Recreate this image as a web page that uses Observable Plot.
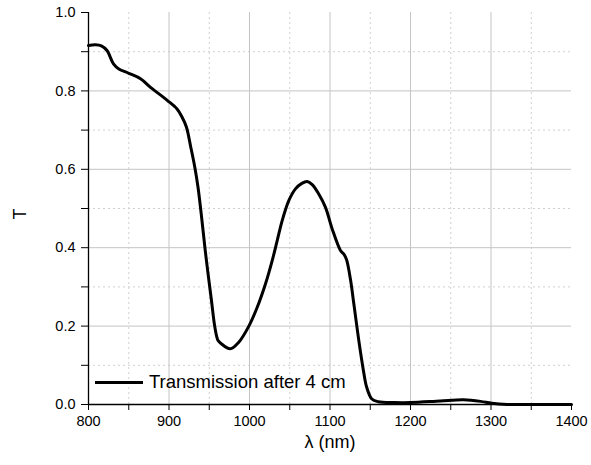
<!DOCTYPE html>
<html>
<head>
<meta charset="utf-8">
<script src="https://cdn.jsdelivr.net/npm/d3@7"></script>
<script src="https://cdn.jsdelivr.net/npm/@observablehq/plot@0.6"></script>
<style>
  html, body { margin: 0; padding: 0; background: #fff; }
  #wrap { position: relative; width: 591px; height: 465px; font-family: "Liberation Sans", Arial, sans-serif; }
  #legend { position: absolute; left: 95px; top: 371px; display: flex; align-items: center; font-size: 18.5px; line-height: 22px; color: #000; }
  #legend .sw { width: 48px; height: 0; border-top: 3px solid #000; margin-right: 6px; }
  #chart svg text { font-size: 14.5px; }
  #chart svg g.title text { font-size: 18px; }
</style>
</head>
<body>
<div id="wrap">
  <div id="chart"></div>
  <div id="legend"><span class="sw"></span><span>Transmission after 4 cm</span></div>
</div>
<script>
const seriesName = "Transmission after 4 cm";
const wavelength = [800, 808.7, 816, 823, 831, 837.7, 850, 864.6, 877, 897.8, 910, 916, 921.6, 927, 932, 936, 940, 945, 948.5, 952.7, 957, 961, 965, 976, 986.7, 999.2, 1009.6, 1019.9, 1028.2, 1034.4, 1040.6, 1048.8, 1057.1, 1065, 1071.6, 1077.9, 1086, 1094.4, 1102.7, 1113, 1117, 1120.5, 1125.5, 1129.6, 1135.8, 1141.5, 1145.6, 1152, 1160, 1180, 1200, 1237, 1266, 1287, 1301, 1320, 1350, 1400];
const transmission = [0.916, 0.918, 0.915, 0.903, 0.869, 0.856, 0.845, 0.831, 0.809, 0.776, 0.754, 0.734, 0.708, 0.657, 0.606, 0.555, 0.487, 0.393, 0.334, 0.266, 0.197, 0.163, 0.155, 0.142, 0.159, 0.200, 0.248, 0.308, 0.367, 0.418, 0.469, 0.520, 0.550, 0.564, 0.569, 0.561, 0.537, 0.503, 0.448, 0.393, 0.384, 0.370, 0.318, 0.257, 0.163, 0.087, 0.044, 0.014, 0.007, 0.005, 0.005, 0.009, 0.012, 0.008, 0.003, 0.0, 0.0, 0.0];
const xMajorTicks = [800, 900, 1000, 1100, 1200, 1300, 1400];
const xMinorTicks = [850, 950, 1050, 1150, 1250, 1350];
const yMajorTicks = [0, 0.2, 0.4, 0.6, 0.8, 1.0];
const yMinorTicks = [0.1, 0.3, 0.5, 0.7, 0.9];
const xGrid = [900, 1000, 1100, 1200, 1300];
const yGrid = [0.2, 0.4, 0.6, 0.8];

const data = wavelength.map((w, i) => ({w, t: transmission[i], s: seriesName}));

const plot = Plot.plot({
  width: 591,
  height: 465,
  marginLeft: 88,
  marginRight: 20,
  marginTop: 12,
  marginBottom: 61,
  style: {fontFamily: "Liberation Sans, Arial, sans-serif", fontSize: "14.5px", color: "#000", background: "#fff"},
  x: {domain: [800, 1400]},
  y: {domain: [0, 1]},
  marks: [
    Plot.gridX(xMinorTicks, {stroke: "#d0d0d0", strokeOpacity: 1, strokeDasharray: "2,3", strokeWidth: 1}),
    Plot.gridY(yMinorTicks, {stroke: "#d0d0d0", strokeOpacity: 1, strokeDasharray: "2,3", strokeWidth: 1}),
    Plot.gridX(xGrid, {stroke: "#c4c4c4", strokeOpacity: 1, strokeWidth: 1}),
    Plot.gridY(yGrid, {stroke: "#c4c4c4", strokeOpacity: 1, strokeWidth: 1}),
    Plot.axisX(xMajorTicks, {tickSize: 6, tickPadding: 5, label: null, tickFormat: d3.format("d"), stroke: "#000"}),
    Plot.axisX(xMinorTicks, {tickSize: 6, text: null, label: null, stroke: "#000"}),
    Plot.axisY(yMajorTicks, {tickSize: 7, tickPadding: 6, label: null, tickFormat: d3.format(".1f"), stroke: "#000"}),
    Plot.axisY(yMinorTicks, {tickSize: 7, text: null, label: null, stroke: "#000"}),
    Plot.ruleX([800], {stroke: "#000", strokeWidth: 1.3}),
    Plot.ruleY([0], {stroke: "#000", strokeWidth: 1.3}),
    Plot.line(data, {x: "w", y: "t", stroke: "#000", strokeWidth: 3, curve: "catmull-rom"}),
    Plot.text(["λ (nm)"], {frameAnchor: "bottom", dy: 43, className: "title", fill: "#000"}),
    Plot.text(["T"], {frameAnchor: "left", dx: -68, dy: 11, rotate: -90, className: "title", fill: "#000"})
  ]
});
document.getElementById("chart").appendChild(plot);
</script>
</body>
</html>
